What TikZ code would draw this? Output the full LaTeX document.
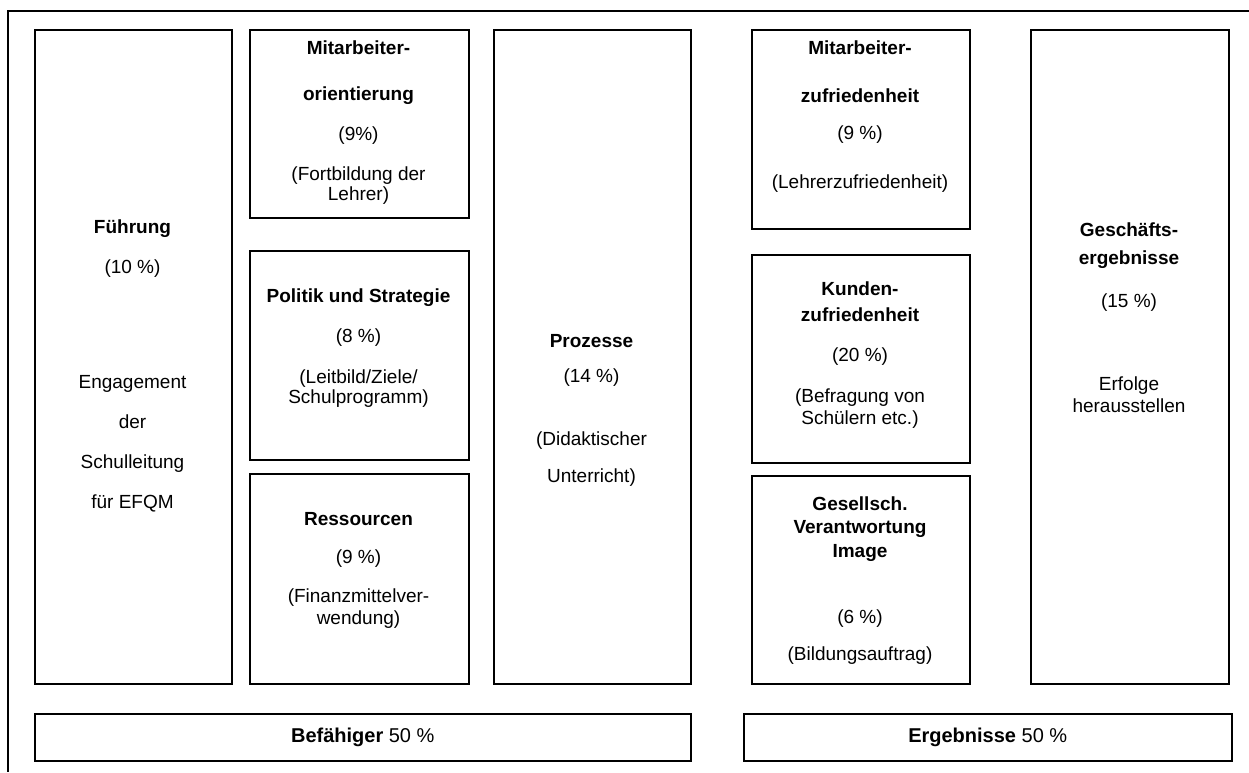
\documentclass[tikz,border=0pt]{standalone}
\usepackage{fontspec}
\setmainfont{Liberation Sans}
\begin{document}
\begin{tikzpicture}[x=1pt,y=-1pt,
  box/.style={draw, line width=1.5pt, inner sep=0pt, anchor=north west},
  lbl/.style={align=center, inner sep=0pt, font=\fontsize{19}{21}\selectfont},
  barlbl/.style={align=center, inner sep=0pt, font=\fontsize{20}{22}\selectfont}]
\useasboundingbox (0,0) rectangle (1249,772);
\coordinate (frameTR) at (1249,11);
\coordinate (frameTL) at (8,11);
\coordinate (frameBL) at (8,772);
\draw[line width=1.5pt] (frameTR) -- (frameTL) -- (frameBL);

% boxes
\node[box, minimum width=197pt, minimum height=654pt] (fuehrung) at (34,29) {};
\node[box, minimum width=219pt, minimum height=188pt] (mitorient) at (249,29) {};
\node[box, minimum width=219pt, minimum height=209pt] (politik) at (249,250) {};
\node[box, minimum width=219pt, minimum height=210pt] (ressourcen) at (249,473) {};
\node[box, minimum width=197pt, minimum height=654pt] (prozesse) at (493,29) {};
\node[box, minimum width=218pt, minimum height=199pt] (mitzufr) at (751,29) {};
\node[box, minimum width=218pt, minimum height=208pt] (kunden) at (751,254) {};
\node[box, minimum width=218pt, minimum height=208pt] (gesell) at (751,475) {};
\node[box, minimum width=198pt, minimum height=654pt] (geschaeft) at (1030,29) {};
\node[box, minimum width=656pt, minimum height=47pt] (befaehiger) at (34,713) {};
\node[box, minimum width=488pt, minimum height=47pt] (ergebnisse) at (743,713) {};

% texts
\node[lbl] (fuehrungT) at (132.5,366) {\textbf{Führung}\\[19pt] (10 \%)\\[94pt] Engagement\\[19pt] der\\[19pt] Schulleitung\\[19pt] für EFQM};
\node[lbl] (mitorientT) at (358.5,123) {\textbf{Mitarbeiter-}\\[25pt] \textbf{orientierung}\\[19pt] (9\%)\\[19pt] (Fortbildung der\\[-1pt] Lehrer)};
\node[lbl] (politikT) at (358.5,348.5) {\textbf{Politik und Strategie}\\[19pt] (8 \%)\\[20pt] (Leitbild/Ziele/\\[-1pt] Schulprogramm)};
\node[lbl] (ressourcenT) at (358.5,570.5) {\textbf{Ressourcen}\\[17pt] (9 \%)\\[18pt] (Finanzmittelver-\\[1pt] wendung)};
\node[lbl] (prozesseT) at (591.5,410) {\textbf{Prozesse}\\[14pt] (14 \%)\\[42pt] (Didaktischer\\[16pt] Unterricht)};
\node[lbl] (mitzufrT) at (860,117) {\textbf{Mitarbeiter-}\\[27pt] \textbf{zufriedenheit}\\[16pt] (9 \%)\\[28pt] (Lehrerzufriedenheit)};
\node[lbl] (kundenT) at (860,355.5) {\textbf{Kunden-}\\[5pt] \textbf{zufriedenheit}\\[19pt] (20 \%)\\[20pt] (Befragung von\\[1pt] Schülern etc.)};
\node[lbl] (gesellT) at (860,581) {\textbf{Gesellsch.}\\[2pt] \textbf{Verantwortung}\\[3pt] \textbf{Image}\\[45pt] (6 \%)\\[16pt] (Bildungsauftrag)};
\node[lbl] (geschaeftT) at (1129,318) {\textbf{Geschäfts-}\\[7pt] \textbf{ergebnisse}\\[22pt] (15 \%)\\[62pt] Erfolge\\[1pt] herausstellen};
\node[barlbl] (befaehigerT) at (befaehiger.center) {\textbf{Befähiger} 50 \%};
\node[barlbl] (ergebnisseT) at (ergebnisse.center) {\textbf{Ergebnisse} 50 \%};
\end{tikzpicture}
\end{document}
